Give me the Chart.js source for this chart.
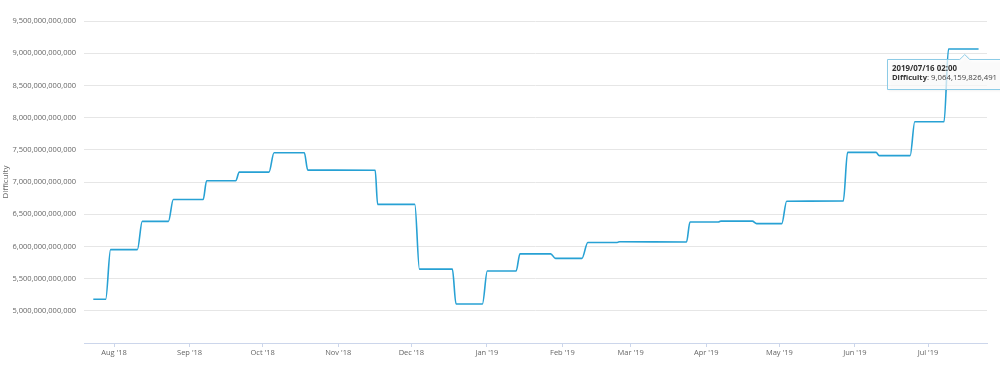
<!DOCTYPE html>
<html>
<head>
<meta charset="utf-8">
<script src="https://cdn.jsdelivr.net/npm/chart.js@4/dist/chart.umd.min.js"></script>
<style>
  html, body { margin: 0; padding: 0; background: #ffffff; }
  #wrap { width: 1000px; height: 375px; position: relative; }
</style>
</head>
<body>
<div id="wrap"><canvas id="c" width="1000" height="375"></canvas></div>
<script>
// ---- data ----
const pointDates = [
  '2018-07-23T12:00','2018-07-28T14:00','2018-07-30T14:00','2018-08-10T14:00',
  '2018-08-12T14:00','2018-08-23T08:00','2018-08-25T08:00','2018-09-06T14:00',
  '2018-09-08T00:00','2018-09-19T22:00','2018-09-21T10:00','2018-10-03T14:00',
  '2018-10-05T16:00','2018-10-18T02:00','2018-10-19T12:00','2018-11-16T04:00',
  '2018-11-17T04:00','2018-12-02T10:00','2018-12-04T08:00','2018-12-17T20:00',
  '2018-12-19T08:00','2018-12-30T04:00','2019-01-01T04:00','2019-01-13T00:00',
  '2019-01-14T14:00','2019-01-27T04:00','2019-01-29T04:00','2019-02-09T00:00',
  '2019-02-11T10:00','2019-02-23T12:00','2019-02-24T12:00','2019-03-23T22:00',
  '2019-03-25T08:00','2019-04-06T00:00','2019-04-07T00:00','2019-04-19T22:00',
  '2019-04-21T16:00','2019-05-02T00:00','2019-05-04T00:00','2019-05-27T06:00',
  '2019-05-29T00:00','2019-06-09T16:00','2019-06-11T00:00','2019-06-23T16:00',
  '2019-06-25T14:00','2019-07-07T14:00','2019-07-09T10:00','2019-07-16T02:00',
  '2019-07-21T18:00'
];
const difficulty = [
  5178671069072, 5178671069072, 5949437371609, 5949437371609,
  6389316883511, 6389316883511, 6727225469722, 6727225469722,
  7019199231177, 7019199231177, 7152633351906, 7152633351906,
  7454968648263, 7454968648263, 7184404942701, 7182852313938,
  6653303141405, 6653303141405, 5646403851534, 5646403851534,
  5106422924659, 5106422924659, 5618595848853, 5618595848853,
  5883988430955, 5883988430955, 5814661935891, 5814661935891,
  6061518831027, 6061518831027, 6071846049920, 6068891541676,
  6379265451411, 6379265451411, 6393023717201, 6393023717201,
  6353030562983, 6353030562983, 6702169884349, 6704632680587,
  7459680720542, 7459680720542, 7409399249090, 7409399249090,
  7934713219630, 7934713219630, 9064159826491, 9064159826491,
  9064159826491
];
const seriesName = 'Difficulty';
const tickDates = ['2018-08-01','2018-09-01','2018-10-01','2018-11-01','2018-12-01',
  '2019-01-01','2019-02-01','2019-03-01','2019-04-01','2019-05-01','2019-06-01','2019-07-01'];
const tickLabels = ["Aug '18","Sep '18","Oct '18","Nov '18","Dec '18",
  "Jan '19","Feb '19","Mar '19","Apr '19","May '19","Jun '19","Jul '19"];
const yMin = 4500000000000, yMax = 9500000000000, yStep = 500000000000;
const xMinDate = '2018-07-19T16:30', xMaxDate = '2019-07-25T05:00';
const tooltipIndex = 47;
const tooltipTitle = '2019/07/16 02:00';

// ---- helpers ----
const t = s => Date.parse(s + (s.length === 10 ? 'T00:00' : '') + 'Z');
const pts = pointDates.map((d, i) => ({ x: t(d), y: difficulty[i] }));
const FONT = '"Open Sans", "DejaVu Sans", sans-serif';
const LINE = '#27a1d4';

const tooltipPlugin = {
  id: 'fixedTooltip',
  afterDraw(chart) {
    const ctx = chart.ctx;
    const xs = chart.scales.x, ys = chart.scales.y;
    const p = pts[tooltipIndex];
    const px = xs.getPixelForValue(p.x), py = ys.getPixelForValue(p.y);
    const left = Math.round(px - 78), right = 1001;
    const top = Math.round(py + 10), bottom = Math.round(py + 40);
    ctx.save();
    ctx.shadowColor = 'rgba(0,0,0,0.10)';
    ctx.shadowBlur = 3; ctx.shadowOffsetX = 1; ctx.shadowOffsetY = 1;
    ctx.beginPath();
    ctx.moveTo(left + 0.5, top + 0.5);
    ctx.lineTo(px - 5, top + 0.5);
    ctx.lineTo(px, py + 5.5);
    ctx.lineTo(px + 5, top + 0.5);
    ctx.lineTo(right, top + 0.5);
    ctx.lineTo(right, bottom + 0.5);
    ctx.lineTo(left + 0.5, bottom + 0.5);
    ctx.closePath();
    ctx.fillStyle = 'rgba(255,255,255,0.72)';
    ctx.fill();
    ctx.shadowColor = 'transparent';
    ctx.strokeStyle = '#8ccbe6';
    ctx.lineWidth = 1;
    ctx.stroke();
    ctx.fillStyle = '#333333';
    ctx.textBaseline = 'middle';
    ctx.textAlign = 'left';
    ctx.font = 'bold 7.9px ' + FONT;
    ctx.fillText(tooltipTitle, left + 5, py + 19.5);
    ctx.font = 'bold 7.6px ' + FONT;
    const lbl = seriesName;
    ctx.fillText(lbl, left + 5, py + 29);
    const w = ctx.measureText(lbl).width;
    ctx.font = '7.8px ' + FONT;
    ctx.fillStyle = '#444444';
    ctx.fillText(': ' + p.y.toLocaleString('en-US'), left + 5 + w, py + 29);
    ctx.restore();
  }
};

new Chart(document.getElementById('c'), {
  type: 'line',
  data: {
    datasets: [{
      label: seriesName,
      data: pts,
      borderColor: LINE,
      borderWidth: 1.6,
      pointRadius: 0,
      fill: false,
      cubicInterpolationMode: 'monotone'
    }]
  },
  options: {
    responsive: false,
    animation: false,
    layout: { padding: { left: 0, right: 13, top: 21, bottom: 0 } },
    plugins: { legend: { display: false }, tooltip: { enabled: false } },
    scales: {
      x: {
        type: 'linear',
        min: t(xMinDate),
        max: t(xMaxDate),
        afterBuildTicks: s => { s.ticks = tickDates.map(d => ({ value: t(d) })); },
        afterFit: s => { s.height = 32; },
        ticks: {
          autoSkip: false, maxRotation: 0, minRotation: 0, padding: 1,
          color: '#666666', font: { family: FONT, size: 7.5 },
          callback: (v, i) => tickLabels[i]
        },
        grid: { drawOnChartArea: false, drawTicks: true, tickLength: 4, color: '#ccd6eb' },
        border: { display: true, color: '#ccd6eb', width: 1 }
      },
      y: {
        min: yMin, max: yMax,
        afterFit: s => { s.width = 84; },
        ticks: {
          stepSize: yStep, padding: 8,
          color: '#666666', font: { family: FONT, size: 7.5 },
          callback: v => (v === yMin ? '' : Number(v).toLocaleString('en-US'))
        },
        grid: {
          drawTicks: false, tickLength: 0,
          color: c => (c.tick && c.tick.value === yMin ? 'rgba(0,0,0,0)' : '#e6e6e6')
        },
        border: { display: false },
        title: {
          display: true, text: seriesName, color: '#666666',
          font: { family: FONT, size: 8 }, padding: { top: 1, bottom: 0 }
        }
      }
    }
  },
  plugins: [tooltipPlugin]
});
</script>
</body>
</html>
